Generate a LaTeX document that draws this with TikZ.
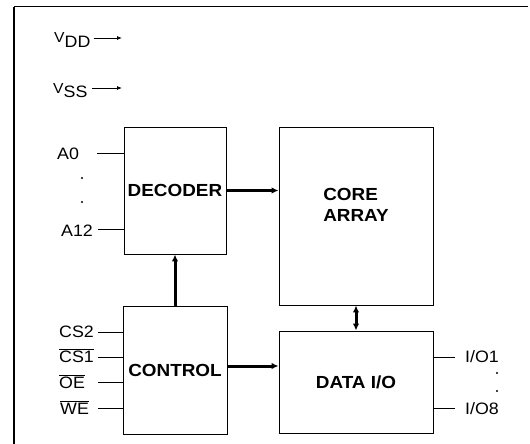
\documentclass[tikz,border=0pt]{standalone}
\usepackage{fontspec}
\setmainfont{Liberation Sans}[FakeStretch=1.08]
\usetikzlibrary{arrows.meta}

\begin{document}
\begin{tikzpicture}[
x=1pt, y=-1pt,
box/.style={draw, rectangle, line width=0.9pt, inner sep=0pt, align=center,
  font=\fontsize{17.5}{21}\selectfont\bfseries},
title/.style={font=\fontsize{17.5}{21}\selectfont\bfseries, align=left, inner sep=0pt},
pin/.style={font=\fontsize{16.5}{19}\selectfont, anchor=base west, inner sep=0pt},
wire/.style={line width=0.8pt},
bus/.style={-{Latex[length=7pt,width=6.5pt]}, line width=3pt},
dbus/.style={{Latex[length=7pt,width=6.5pt]}-{Latex[length=7pt,width=6.5pt]}, line width=3pt},
power/.style={-{Latex[length=5pt,width=4pt]}, line width=0.8pt}
]
\useasboundingbox (0,0) rectangle (530,444);

% ---------- FRAME ----------

\draw[line width=2pt] (14,444) -- (14,7);
\draw[line width=0.9pt] (14,6) -- (528,6);

% ---------- BLOCKS ----------

\node[box, minimum width=102pt, minimum height=127pt] (decoder) at (175,190.5)
{DECODER};

\node[box, minimum width=154pt, minimum height=178pt] (core) at (356,216) {};
\node[title] (coretext) at (356,205)
{CORE\\
ARRAY};

\node[box, minimum width=104pt, minimum height=128pt] (control) at (175,370)
{CONTROL};

\node[box, minimum width=154pt, minimum height=102pt] (dataio) at (356,382)
{DATA I/O};

% ---------- POWER PINS ----------

\node[pin] (vdd) at (54,43)
{{\fontsize{14.5}{16}\selectfont V}\raisebox{-4.5pt}{DD}};
\node[pin] (vss) at (53,93)
{{\fontsize{14.5}{16}\selectfont V}\raisebox{-4.5pt}{SS}};

\coordinate (vddtip) at (122,38);
\coordinate (vsstip) at (122,88);

% ---------- ADDRESS PINS ----------

\node[pin] (a0) at (57,159) {A0};
\node[pin] (a12) at (61,236) {A12};

\coordinate (a0end) at (97,153);
\coordinate (a12end) at (98,229);

% ---------- CONTROL PINS ----------

\node[pin] (cs2) at (59,337) {CS2};
\node[pin] (cs1) at (59,362) {$\overline{\hbox{CS1}}$};
\node[pin] (oe) at (59,388) {$\overline{\hbox{OE}}$};
\node[pin] (we) at (60,414) {$\overline{\hbox{WE}}$};

\coordinate (cs2end) at (98,332);
\coordinate (cs1end) at (98,357);
\coordinate (oeend) at (98,382);
\coordinate (weend) at (98,408);

% ---------- DATA PINS ----------

\node[pin] (io1) at (465,362) {I/O1};
\node[pin] (io8) at (465,414) {I/O8};

\coordinate (io1end) at (455,357);
\coordinate (io8end) at (455,408);

% ---------- DOTS ----------

\fill (82,178) circle (1.2pt);
\fill (82,202) circle (1.2pt);
\fill (497,373) circle (1.2pt);
\fill (497,391) circle (1.2pt);

% ---------- ARROWS ----------

\draw[power] (vddtip -| vdd.east) ++(3,0) -- (vddtip);
\draw[power] (vsstip -| vss.east) ++(4,0) -- (vsstip);

\draw[wire] (a0end) -- (a0end -| decoder.west);
\draw[wire] (a12end) -- (a12end -| decoder.west);

\draw[wire] (cs2end) -- (cs2end -| control.west);
\draw[wire] (cs1end) -- (cs1end -| control.west);
\draw[wire] (oeend) -- (oeend -| control.west);
\draw[wire] (weend) -- (weend -| control.west);

\draw[wire] (io1end -| dataio.east) -- (io1end);
\draw[wire] (io8end -| dataio.east) -- (io8end);

\draw[bus] (decoder.east) -- (decoder.east -| core.west);
\draw[bus] (control.north) -- (decoder.south);
\draw[bus] ([yshift=4pt]control.east) -- ([yshift=4pt]control.east -| dataio.west);
\draw[dbus] (core.south) -- (dataio.north);

\end{tikzpicture}
\end{document}
